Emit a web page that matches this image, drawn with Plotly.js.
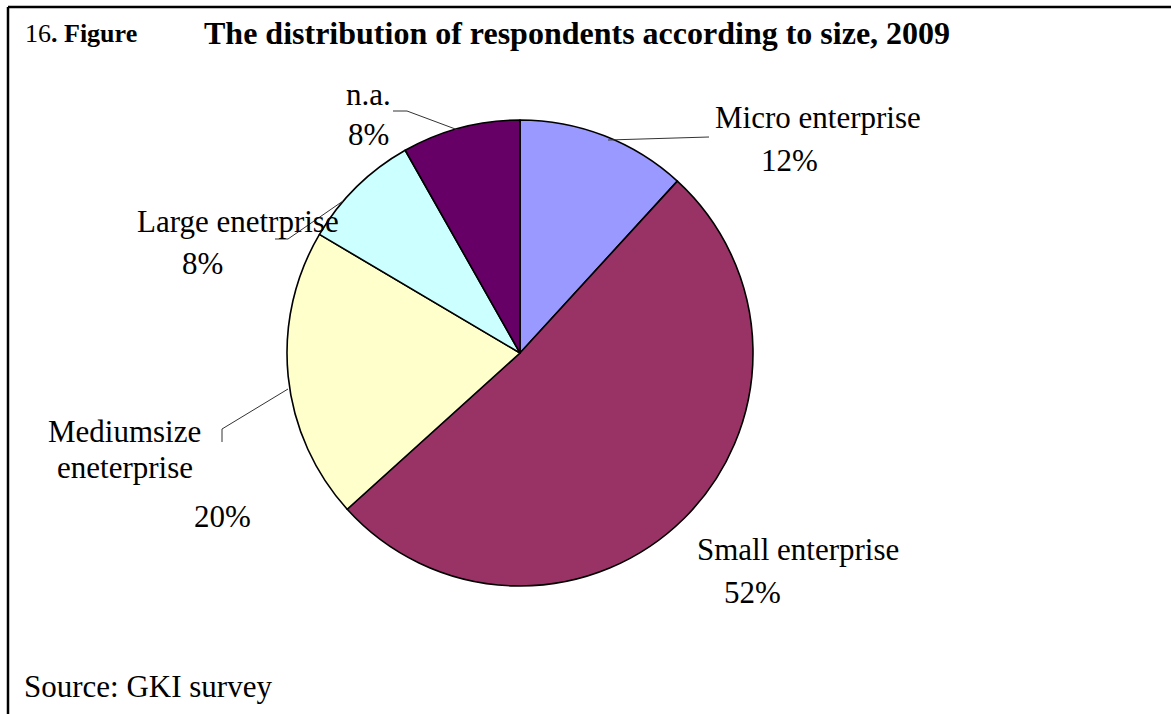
<!DOCTYPE html>
<html>
<head>
<meta charset="utf-8">
<script src="https://cdn.plot.ly/plotly-3.0.1.min.js"></script>
<style>html,body{margin:0;padding:0;background:#fff;}#chart{width:1171px;height:714px;}</style>
</head>
<body>
<div id="chart"></div>
<script>
// ---- data ----
const categories = ["Micro enterprise", "Small enterprise", "Mediumsize eneterprise", "Large enetrprise", "n.a."];
const shares = [11.8, 51.5, 20.2, 8.3, 8.2];
const sliceColors = ["#9999FF", "#993366", "#FFFFCC", "#CCFFFF", "#660066"];
const titleNumber = "16";
const titleWord = ". Figure";
const titleMain = "The distribution of respondents according to size, 2009";
const sourceText = "Source: GKI survey";

// ---- layout helpers ----
const W = 1171, H = 714;
const px = x => x / W;
const py = y => 1 - y / H;
const cx = 520, cy = 353, R = 233;
const total = shares.reduce((a, b) => a + b, 0);
const pct = i => Math.round(shares[i] / total * 100) + "%";

const FONT = "'Liberation Serif', 'Times New Roman', Times, serif";
const FS = 31;

function ann(text, x, y, size, extra) {
  return Object.assign({
    text: text, xref: "paper", yref: "paper", x: px(x), y: py(y),
    xanchor: "center", yanchor: "middle", showarrow: false,
    font: {family: FONT, size: size || FS, color: "#000"}
  }, extra || {});
}

// label line positions (pixel space of the reference)
const annotations = [
  ann(categories[0], 818, 118),
  ann(pct(0), 789, 161),
  ann(categories[1], 798, 549),
  ann(pct(1), 752, 592),
  ann("Mediumsize", 125, 432),
  ann("eneterprise", 125, 467),
  ann(pct(2), 222, 516),
  ann(categories[3], 238, 221),
  ann(pct(3), 202, 263),
  ann(categories[4], 368, 95),
  ann(pct(4), 368, 134),
  ann(titleNumber + "<b>" + titleWord + "</b>", 23, 33, 26, {xanchor: "left"}),
  ann("<b>" + titleMain + "</b>", 202, 33, 32, {xanchor: "left"}),
  ann(sourceText, 22, 686, FS, {xanchor: "left"})
];

function pathFrom(pts) {
  return pts.map((p, i) => (i ? "L" : "M") + px(p[0]) + "," + py(p[1])).join(" ");
}
const leaders = [
  [[608, 140], [709, 137]],
  [[458, 130], [407, 111], [393, 111]],
  [[343, 201], [288, 239], [275, 239]],
  [[288, 389], [222, 429], [222, 442]]
];
const shapes = leaders.map(pts => ({
  type: "path", xref: "paper", yref: "paper", path: pathFrom(pts),
  line: {color: "#333", width: 1}
}));
// frame: top and left border
shapes.push({type: "line", xref: "paper", yref: "paper", x0: px(8), x1: 1, y0: py(7), y1: py(7), line: {color: "#000", width: 2.5}});
shapes.push({type: "line", xref: "paper", yref: "paper", x0: px(8), x1: px(8), y0: py(7), y1: 0, line: {color: "#000", width: 2.5}});

const trace = {
  type: "pie",
  labels: categories,
  values: shares,
  sort: false,
  direction: "clockwise",
  rotation: 0,
  textinfo: "none",
  hoverinfo: "label+percent",
  marker: {colors: sliceColors, line: {color: "#000", width: 1.6}},
  domain: {x: [px(cx - R), px(cx + R)], y: [py(cy + R), py(cy - R)]}
};

const layout = {
  width: W, height: H,
  margin: {l: 0, r: 0, t: 0, b: 0},
  paper_bgcolor: "#fff", plot_bgcolor: "#fff",
  showlegend: false,
  annotations: annotations,
  shapes: shapes
};

Plotly.newPlot("chart", [trace], layout, {displayModeBar: false, staticPlot: true});
</script>
</body>
</html>
